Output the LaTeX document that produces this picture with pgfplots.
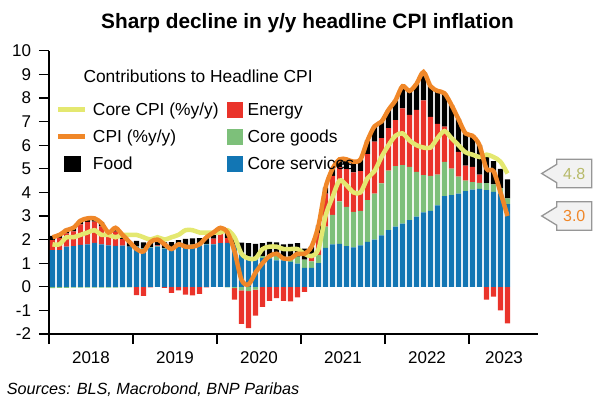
\documentclass[border=0pt]{standalone}
\usepackage{pgfplots}
\pgfplotsset{compat=1.18}
\usepackage{pgfplotstable}
\usepackage{fontspec}
\setmainfont{Liberation Sans}

\definecolor{cserv}{RGB}{18,118,180}
\definecolor{cgoods}{RGB}{125,192,122}
\definecolor{cenergy}{RGB}{234,51,42}
\definecolor{cfood}{RGB}{0,0,0}
\definecolor{ccpi}{RGB}{240,135,40}
\definecolor{ccore}{RGB}{228,232,112}
\definecolor{ccoretxt}{RGB}{183,186,105}
\definecolor{boxfill}{RGB}{242,242,242}
\definecolor{boxline}{RGB}{150,150,150}

\newcommand\tickfont{\fontsize{17}{17}\selectfont}
\newcommand\legfont{\fontsize{17.4}{17.4}\selectfont}

% monthly, Jan 2018 = 0.5; contributions in pp
\pgfplotstableread{
x    serv goods energy food cpi core
0.5  1.55 -0.06 0.43 0.18 2.1 1.8
1.5  1.55 -0.05 0.52 0.18 2.2 1.8
2.5  1.70 -0.05 0.56 0.19 2.4 2.1
3.5  1.72 -0.04 0.63 0.19 2.5 2.1
4.5  1.78 -0.04 0.87 0.19 2.8 2.2
5.5  1.80 -0.04 0.95 0.19 2.9 2.3
6.5  1.86 -0.04 0.90 0.18 2.9 2.4
7.5  1.80 -0.04 0.76 0.18 2.7 2.2
8.5  1.76 -0.03 0.38 0.19 2.3 2.2
9.5  1.73 -0.03 0.61 0.19 2.5 2.1
10.5 1.74 -0.02 0.28 0.20 2.2 2.2
11.5 1.70 -0.02 0.00 0.22 1.9 2.2
12.5 1.70 0.01 -0.35 0.24 1.6 2.2
13.5 1.62 0.02 -0.38 0.24 1.5 2.1
14.5 1.66 0.02 -0.02 0.24 1.9 2.0
15.5 1.70 0.02 0.04 0.24 2.0 2.1
16.5 1.62 0.02 -0.05 0.24 1.8 2.0
17.5 1.62 0.02 -0.26 0.25 1.6 2.1
18.5 1.70 0.03 -0.15 0.25 1.8 2.2
19.5 1.75 0.03 -0.33 0.25 1.7 2.4
20.5 1.77 0.02 -0.36 0.26 1.7 2.4
21.5 1.76 0.02 -0.30 0.28 1.8 2.3
22.5 1.80 0.02 -0.02 0.28 2.1 2.3
23.5 1.80 0.01 0.23 0.26 2.3 2.3
24.5 1.85 0.00 0.40 0.25 2.5 2.3
25.5 1.86 -0.02 0.20 0.26 2.3 2.4
26.5 1.80 -0.06 -0.48 0.24 1.5 2.1
27.5 1.45 -0.15 -1.42 0.42 0.3 1.4
28.5 1.30 -0.18 -1.57 0.55 0.1 1.2
29.5 1.22 -0.12 -1.10 0.60 0.6 1.2
30.5 1.22 0.08 -0.85 0.55 1.0 1.6
31.5 1.20 0.12 -0.60 0.58 1.3 1.7
32.5 1.12 0.18 -0.48 0.58 1.4 1.7
33.5 1.12 0.15 -0.60 0.53 1.2 1.6
34.5 1.06 0.22 -0.62 0.54 1.2 1.6
35.5 0.98 0.30 -0.45 0.57 1.4 1.6
36.5 0.80 0.35 -0.22 0.47 1.4 1.4
37.5 0.80 0.28 0.20 0.42 1.7 1.3
38.5 1.00 0.35 0.92 0.33 2.6 1.6
39.5 1.65 0.90 1.40 0.25 4.2 3.0
40.5 1.80 1.25 1.65 0.30 5.0 3.8
41.5 1.82 1.80 1.45 0.33 5.4 4.5
42.5 1.72 1.67 1.60 0.41 5.4 4.3
43.5 1.67 1.50 1.68 0.45 5.3 4.0
44.5 1.75 1.47 1.68 0.50 5.4 4.0
45.5 1.90 1.77 1.95 0.58 6.2 4.6
46.5 2.00 1.95 2.20 0.65 6.8 4.9
47.5 2.18 2.20 1.92 0.70 7.0 5.5
48.5 2.40 2.52 1.80 0.78 7.5 6.0
49.5 2.55 2.56 1.95 0.84 7.9 6.4
50.5 2.68 2.48 2.40 0.94 8.5 6.5
51.5 2.82 2.26 2.20 1.02 8.3 6.2
52.5 2.97 1.90 2.63 1.10 8.6 6.0
53.5 3.15 1.58 3.17 1.20 9.1 5.9
54.5 3.22 1.48 2.50 1.30 8.5 5.9
55.5 3.45 1.30 2.15 1.40 8.3 6.3
56.5 3.84 1.45 1.50 1.41 8.2 6.6
57.5 3.88 1.13 1.30 1.39 7.7 6.3
58.5 3.95 0.72 1.05 1.38 7.1 6.0
59.5 4.05 0.45 0.63 1.37 6.5 5.7
60.5 4.12 0.32 0.64 1.32 6.4 5.6
61.5 4.15 0.25 0.35 1.25 6.0 5.5
62.5 4.10 0.29 -0.54 1.15 5.0 5.6
63.5 4.02 0.32 -0.42 0.98 4.9 5.5
64.5 3.95 0.22 -1.00 0.83 4.0 5.3
65.5 3.50 0.25 -1.55 0.80 3.0 4.8
}\cpidata

\pgfplotsset{
  cpibase/.style={
    x=7pt, y=23.6pt,
    xmin=0, xmax=69.86, ymin=-2, ymax=10,
    at={(49pt,72pt)}, anchor=south west,
    clip=false,
  },
}

\begin{document}
\begin{tikzpicture}
\useasboundingbox (0,0) rectangle (604pt,406pt);

% negative parts of the stack
\begin{axis}[cpibase, hide axis, ybar stacked, bar width=0.78]
  \addplot[fill=cgoods, draw=none] table[x=x, y expr={min(\thisrow{goods},0)}] {\cpidata};
  \addplot[fill=cenergy, draw=none] table[x=x, y expr={min(\thisrow{energy},0)}] {\cpidata};
\end{axis}

% positive parts + axes
\begin{axis}[cpibase, ybar stacked, bar width=0.78,
    axis x line*=bottom, axis y line*=left,
    axis line style={line width=1.3pt, black},
    major tick style={line width=1.3pt, black},
    tick align=outside, major tick length=10pt,
    xtick={0,12,24,36,48,60}, xticklabels={},
    extra x ticks={6,18,30,42,54,65},
    extra x tick labels={2018,2019,2020,2021,2022,2023},
    extra x tick style={major tick length=0pt},
    ytick={-2,-1,0,1,2,3,4,5,6,7,8,9,10},
    yticklabels={-2,-1,0,1,2,3,4,5,6,7,8,9,10},
    tick label style={font=\tickfont},
    xticklabel style={yshift=-14pt},
    yticklabel style={xshift=-4.5pt},
    minor tick num=0,
  ]
  \addplot[fill=cserv, draw=none] table[x=x, y=serv] {\cpidata};
  \addplot[fill=cgoods, draw=none] table[x=x, y expr={max(\thisrow{goods},0)}] {\cpidata};
  \addplot[fill=cenergy, draw=none] table[x=x, y expr={max(\thisrow{energy},0)}] {\cpidata};
  \addplot[fill=cfood, draw=none] table[x=x, y=food] {\cpidata};
\end{axis}

% lines, legend, call-outs
\begin{axis}[cpibase, hide axis,
    legend columns=2,
    legend style={at={(0.0143,0.820)}, anchor=north west,
      draw=none, fill=none, inner sep=0pt, outer sep=0pt,
      row sep=9.4pt,
      nodes={inner sep=0pt, text height=13pt, text depth=4pt, font=\legfont},
      cells={anchor=base west},
      /tikz/every odd column/.style={column sep=5pt},
      /tikz/every even column/.style={column sep=8pt}},
  ]
  \addplot[ccore, line width=4.5pt, smooth, no markers, forget plot] table[x=x, y=core] {\cpidata};
  \addplot[ccpi, line width=4.5pt, smooth, no markers, forget plot] table[x=x, y=cpi] {\cpidata};

  \addlegendimage{legend image code/.code={\draw[ccore, line width=5pt] (0pt,6pt) -- (27pt,6pt);}}
  \addlegendentry{Core CPI (\%y/y)}
  \addlegendimage{legend image code/.code={\fill[cenergy] (5.7pt,-2.3pt) rectangle (21.3pt,13.3pt);}}
  \addlegendentry{Energy}
  \addlegendimage{legend image code/.code={\draw[ccpi, line width=5pt] (0pt,6pt) -- (27pt,6pt);}}
  \addlegendentry{CPI (\%y/y)}
  \addlegendimage{legend image code/.code={\fill[cgoods] (5.7pt,-2.3pt) rectangle (21.3pt,13.3pt);}}
  \addlegendentry{Core goods}
  \addlegendimage{legend image code/.code={\fill[cfood] (5.7pt,-2.3pt) rectangle (21.3pt,13.3pt);}}
  \addlegendentry{Food}
  \addlegendimage{legend image code/.code={\fill[cserv] (5.7pt,-2.3pt) rectangle (21.3pt,13.3pt);}}
  \addlegendentry{Core services}

  \draw[boxline, fill=boxfill, line width=1.3pt] (axis cs:70.39,4.8) -- ++(15pt,9.2pt) -- ++(0pt,5pt)
     -- ++(35pt,0pt) -- ++(0pt,-28.4pt) -- ++(-35pt,0pt) -- ++(0pt,5pt) -- cycle;
  \node[text=ccoretxt, font=\fontsize{16}{16}\selectfont] at ([xshift=32.5pt]axis cs:70.39,4.8) {4.8};
  \draw[boxline, fill=boxfill, line width=1.3pt] (axis cs:70.39,3.0) -- ++(15pt,9.2pt) -- ++(0pt,5pt)
     -- ++(35pt,0pt) -- ++(0pt,-28.4pt) -- ++(-35pt,0pt) -- ++(0pt,5pt) -- cycle;
  \node[text=ccpi, font=\fontsize{16}{16}\selectfont] at ([xshift=32.5pt]axis cs:70.39,3.0) {3.0};
\end{axis}

\node[anchor=base, font=\fontsize{20.8}{24}\selectfont\bfseries] at (307.5pt,377.7pt)
  {Sharp decline in y/y headline CPI inflation};
\node[anchor=base west, inner sep=0pt, font=\legfont] at (83.3pt,323pt)
  {Contributions to Headline CPI};
\node[anchor=base west, inner sep=0pt, font=\fontsize{16.2}{18}\selectfont\itshape] at (6.7pt,11pt)
  {Sources: BLS, Macrobond, BNP Paribas};
\end{tikzpicture}
\end{document}
